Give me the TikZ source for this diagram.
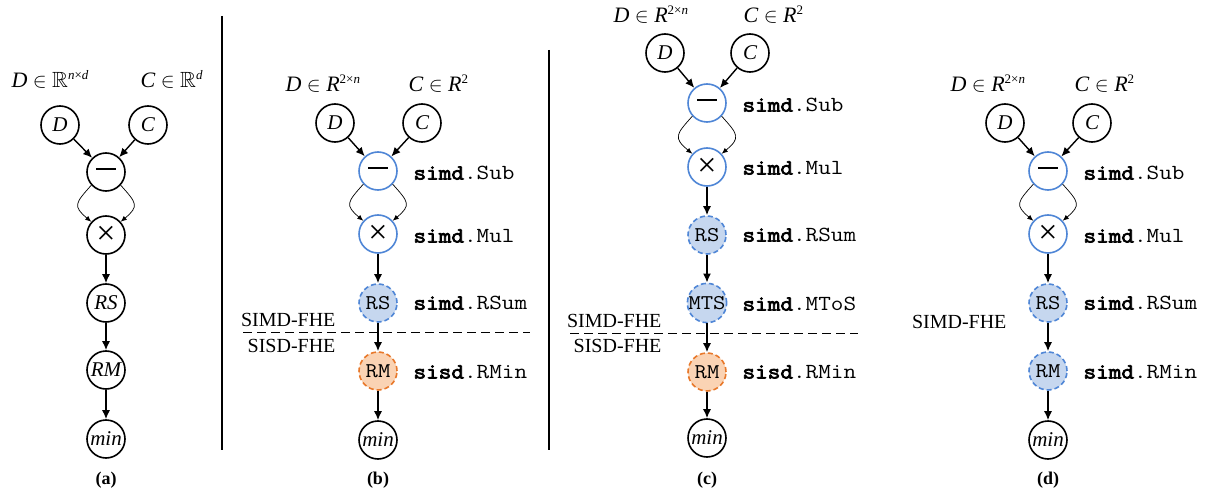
\documentclass[tikz,border=0pt]{standalone}
\usepackage{fontspec}
\usepackage{amssymb}
\setmainfont{Liberation Serif}
\setmonofont{Latin Modern Mono}[FakeStretch=1.14, BoldFont={Latin Modern Mono}, BoldFeatures={FakeBold=3.5}]
\usetikzlibrary{arrows.meta}
\definecolor{myblue}{HTML}{4F86D6}
\definecolor{bluefill}{HTML}{C6D7EF}
\definecolor{myorange}{HTML}{E8782A}
\definecolor{orfill}{HTML}{FAD3B4}
\newcommand{\mysp}[1]{\raisebox{8pt}{\fontsize{13}{13}\selectfont #1}}
\newcommand{\mybb}{\ensuremath{\mathbb{R}}}
\newcommand{\mydash}{\rule[6.5pt]{20pt}{1.6pt}}
\begin{document}
\begin{tikzpicture}[x=1pt,y=-1pt,
  op/.style={circle, draw, line width=1.6pt, minimum size=38pt, inner sep=0pt, fill=white},
  bop/.style={op, draw=myblue},
  rsn/.style={op, draw=myblue, fill=bluefill, dash pattern=on 5pt off 3pt},
  rmn/.style={op, draw=myorange, fill=orfill, dash pattern=on 5pt off 3pt},
  it/.style={font=\fontsize{21}{21}\selectfont\itshape},
  tt/.style={font=\fontsize{21}{21}\selectfont\ttfamily},
  sym/.style={font=\fontsize{34}{34}\selectfont},
  lab/.style={anchor=west, font=\fontsize{21.5}{21.5}\selectfont\ttfamily},
  toplab/.style={anchor=base west, font=\fontsize{22}{22}\selectfont},
  fhe/.style={anchor=east, font=\fontsize{20}{20}\selectfont},
  captxt/.style={font=\fontsize{18}{18}\selectfont\bfseries},
  arr/.style={-{Latex[length=9pt,width=8pt]}, line width=1.4pt},
  carr/.style={-{Latex[length=6pt,width=5pt]}, line width=0.7pt},
  arcl/.style={carr, out=228, in=140, looseness=1.7},
  arcr/.style={carr, out=-48, in=40, looseness=1.7},
  sep/.style={line width=0.9pt, dash pattern=on 9pt off 5pt},
  vsep/.style={line width=1.8pt}]
\useasboundingbox (0,0) rectangle (1207,497);

% ---------- panel (a)
\node[toplab] (la1) at (8,88) {\textit{D} $\in$ \mybb\mysp{\textit{n}×\textit{d}}};
\node[toplab] (la2) at (137,88) {\textit{C} $\in$ \mybb\mysp{\textit{d}}};
\node[op,it] (aD) at (60,125) {D};
\node[op,it] (aC) at (148,125) {C};
\node[op] (aM) at (106,172) {\mydash};
\node[op,sym] (aT) at (106,235) {×};
\node[op,it] (aRS) at (106,303) {RS};
\node[op,it] (aRM) at (106,370) {RM};
\node[op,it] (amin) at (106,439) {min};
\node[captxt] (ca) at (106,480) {(a)};
\draw[arr] (aD) -- (aM);
\draw[arr] (aC) -- (aM);
\draw[arcl] (aM.222) to (aT.138);
\draw[arcr] (aM.-42) to (aT.42);
\draw[arr] (aT) -- (aRS);
\draw[arr] (aRS) -- (aRM);
\draw[arr] (aRM) -- (amin);

\coordinate (v1a) at (222,16);
\coordinate (v1b) at (222,450);
\draw[vsep] (v1a) -- (v1b);

% ---------- panel (b)
\node[toplab] (lb1) at (282,92) {\textit{D} $\in$ \textit{R}\mysp{2×\textit{n}}};
\node[toplab] (lb2) at (405,92) {\textit{C} $\in$ \textit{R}\mysp{2}};
\node[op,it] (bD) at (335,123) {D};
\node[op,it] (bC) at (422,123) {C};
\node[bop] (bM) at (378,171) {\mydash};
\node[bop,sym] (bT) at (378,234) {×};
\node[rsn,tt] (bRS) at (378,303) {RS};
\node[rmn,tt] (bRM) at (378,371) {RM};
\node[op,it] (bmin) at (378,440) {min};
\node[captxt] (cb) at (378,480) {(b)};
\node[lab] (tb1) at (410,173) {\textbf{simd}.Sub};
\node[lab] (tb2) at (410,236) {\textbf{simd}.Mul};
\node[lab] (tb3) at (410,303) {\textbf{simd}.RSum};
\node[lab] (tb4) at (410,372) {\textbf{sisd}.RMin};
\node[fhe] (fb1) at (339,320) {SIMD-FHE};
\node[fhe] (fb2) at (339,346) {SISD-FHE};
\coordinate (db1) at (243,332);
\coordinate (db2) at (530,332);
\draw[sep] (db1) -- (db2);
\draw[arr] (bD) -- (bM);
\draw[arr] (bC) -- (bM);
\draw[arcl] (bM.222) to (bT.138);
\draw[arcr] (bM.-42) to (bT.42);
\draw[arr] (bT) -- (bRS);
\draw[arr] (bRS) -- (bRM);
\draw[arr] (bRM) -- (bmin);

\coordinate (v2a) at (549,50);
\coordinate (v2b) at (549,450);
\draw[vsep] (v2a) -- (v2b);

% ---------- panel (c)
\node[toplab] (lc1) at (610,23) {\textit{D} $\in$ \textit{R}\mysp{2×\textit{n}}};
\node[toplab] (lc2) at (740,23) {\textit{C} $\in$ \textit{R}\mysp{2}};
\node[op,it] (cD) at (665,53) {D};
\node[op,it] (cC) at (750,53) {C};
\node[bop] (cM) at (707,103) {\mydash};
\node[bop,sym] (cT) at (707,167) {×};
\node[rsn,tt] (cRS) at (707,235) {RS};
\node[rsn,tt] (cMTS) at (707,303) {MTS};
\node[rmn,tt] (cRM) at (707,372) {RM};
\node[op,it] (cmin) at (707,438) {min};
\node[captxt] (cc) at (707,480) {(c)};
\node[lab] (tc1) at (739,105) {\textbf{simd}.Sub};
\node[lab] (tc2) at (739,168) {\textbf{simd}.Mul};
\node[lab] (tc3) at (739,235) {\textbf{simd}.RSum};
\node[lab] (tc4) at (739,304) {\textbf{simd}.MToS};
\node[lab] (tc5) at (739,372) {\textbf{sisd}.RMin};
\node[fhe] (fc1) at (665,321) {SIMD-FHE};
\node[fhe] (fc2) at (665,346) {SISD-FHE};
\coordinate (dc1) at (570,333);
\coordinate (dc2) at (858,333);
\draw[sep] (dc1) -- (dc2);
\draw[arr] (cD) -- (cM);
\draw[arr] (cC) -- (cM);
\draw[arcl] (cM.222) to (cT.138);
\draw[arcr] (cM.-42) to (cT.42);
\draw[arr] (cT) -- (cRS);
\draw[arr] (cRS) -- (cMTS);
\draw[arr] (cMTS) -- (cRM);
\draw[arr] (cRM) -- (cmin);

% ---------- panel (d)
\node[toplab] (ld1) at (947,92) {\textit{D} $\in$ \textit{R}\mysp{2×\textit{n}}};
\node[toplab] (ld2) at (1071,92) {\textit{C} $\in$ \textit{R}\mysp{2}};
\node[op,it] (dD) at (1005,123) {D};
\node[op,it] (dC) at (1092,123) {C};
\node[bop] (dM) at (1048,171) {\mydash};
\node[bop,sym] (dT) at (1048,234) {×};
\node[rsn,tt] (dRS) at (1048,303) {RS};
\node[rsn,tt] (dRM) at (1048,371) {RM};
\node[op,it] (dmin) at (1048,440) {min};
\node[captxt] (cd) at (1048,480) {(d)};
\node[lab] (td1) at (1080,173) {\textbf{simd}.Sub};
\node[lab] (td2) at (1080,236) {\textbf{simd}.Mul};
\node[lab] (td3) at (1080,303) {\textbf{simd}.RSum};
\node[lab] (td4) at (1080,372) {\textbf{simd}.RMin};
\node[fhe] (fd1) at (1010,322) {SIMD-FHE};
\draw[arr] (dD) -- (dM);
\draw[arr] (dC) -- (dM);
\draw[arcl] (dM.222) to (dT.138);
\draw[arcr] (dM.-42) to (dT.42);
\draw[arr] (dT) -- (dRS);
\draw[arr] (dRS) -- (dRM);
\draw[arr] (dRM) -- (dmin);
\end{tikzpicture}
\end{document}
